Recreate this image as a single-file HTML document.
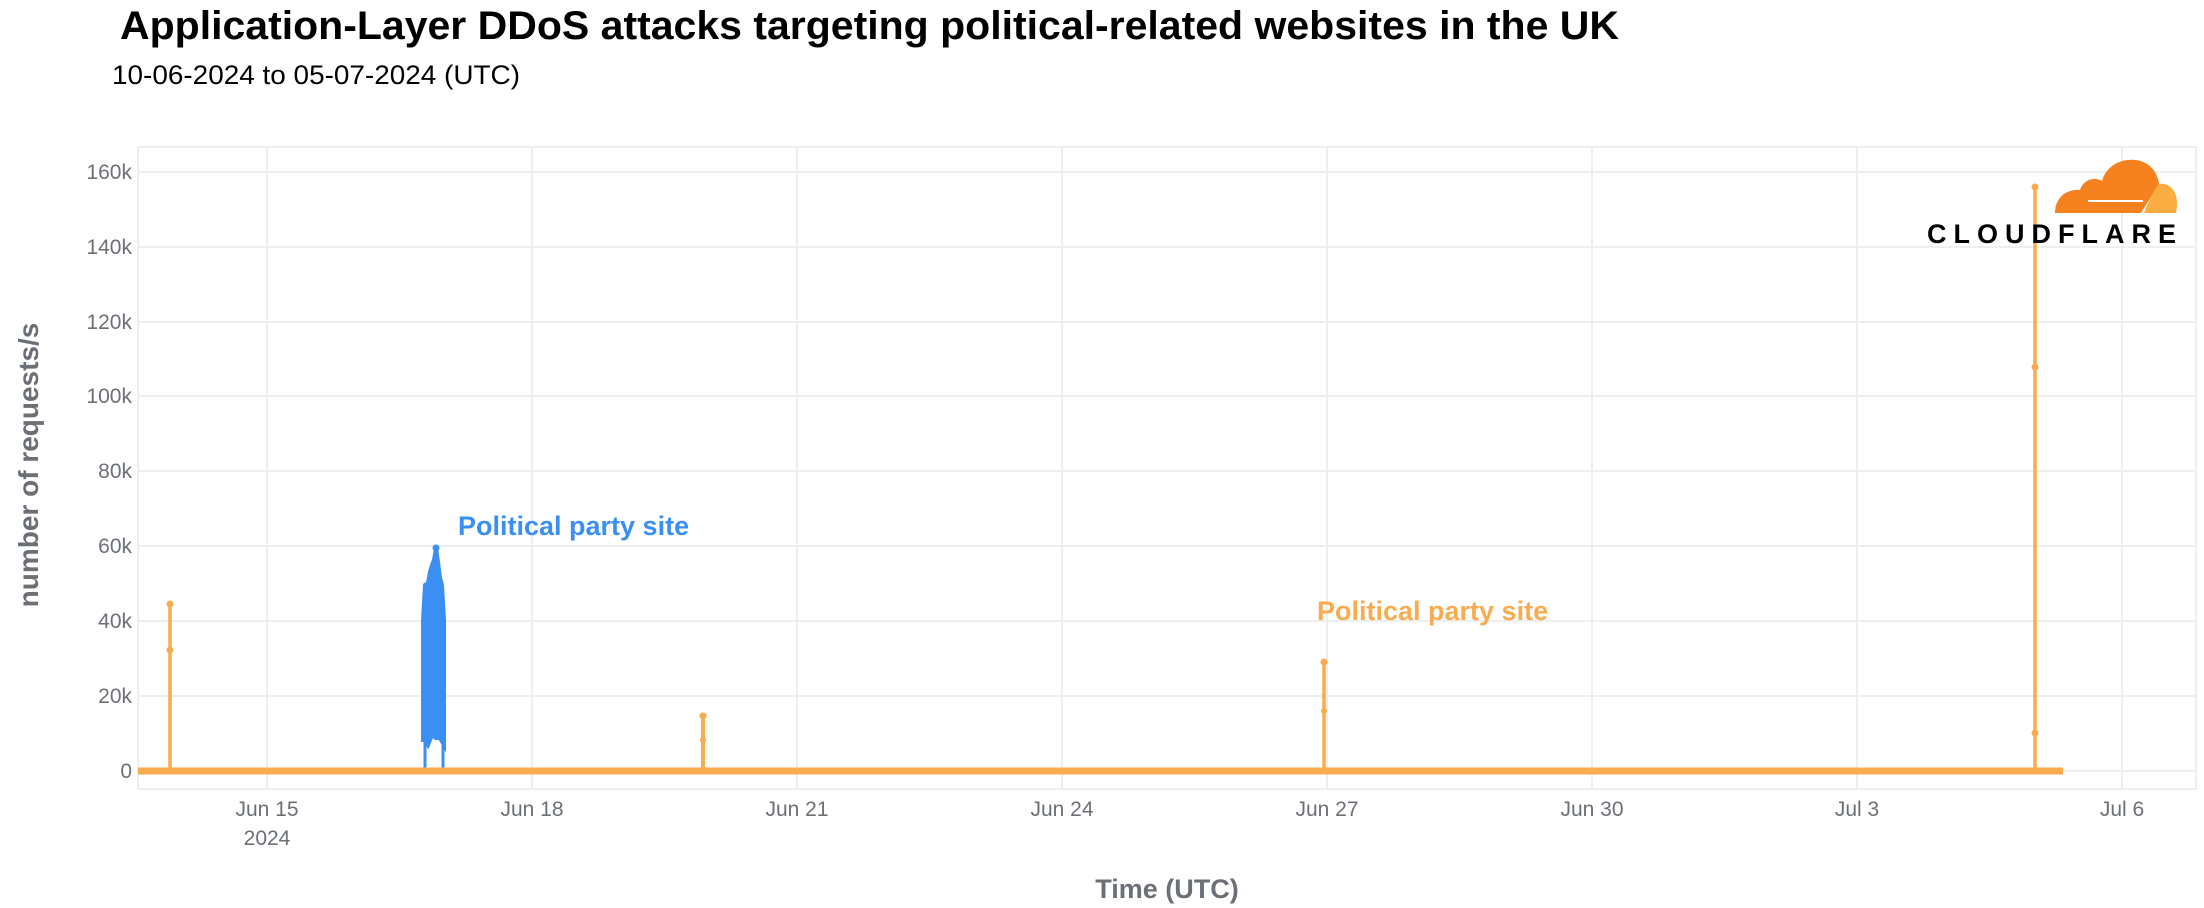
<!DOCTYPE html>
<html><head><meta charset="utf-8"><style>
html,body{margin:0;padding:0;background:#fff;width:2204px;height:908px;overflow:hidden}
svg{display:block}
text{font-family:"Liberation Sans",Arial,sans-serif}
</style></head><body>
<svg width="2204" height="908" viewBox="0 0 2204 908" xmlns="http://www.w3.org/2000/svg">
<rect width="2204" height="908" fill="#fff"/>
<text x="120" y="39" font-size="40" font-weight="bold" fill="#000" textLength="1499" lengthAdjust="spacingAndGlyphs">Application-Layer DDoS attacks targeting political-related websites in the UK</text>
<text x="112" y="84" font-size="27" fill="#000" textLength="408" lengthAdjust="spacingAndGlyphs">10-06-2024 to 05-07-2024 (UTC)</text>
<rect x="138" y="147" width="2058" height="642" fill="none" stroke="#eeeeee" stroke-width="2"/>
<g stroke="#eeeeee" stroke-width="2">
<line x1="138" x2="2196" y1="172" y2="172"/>
<line x1="138" x2="2196" y1="247" y2="247"/>
<line x1="138" x2="2196" y1="322" y2="322"/>
<line x1="138" x2="2196" y1="396" y2="396"/>
<line x1="138" x2="2196" y1="471" y2="471"/>
<line x1="138" x2="2196" y1="546" y2="546"/>
<line x1="138" x2="2196" y1="621" y2="621"/>
<line x1="138" x2="2196" y1="696" y2="696"/>
<line x1="138" x2="2196" y1="771" y2="771"/>
<line y1="147" y2="789" x1="267" x2="267"/>
<line y1="147" y2="789" x1="532" x2="532"/>
<line y1="147" y2="789" x1="797" x2="797"/>
<line y1="147" y2="789" x1="1062" x2="1062"/>
<line y1="147" y2="789" x1="1327" x2="1327"/>
<line y1="147" y2="789" x1="1592" x2="1592"/>
<line y1="147" y2="789" x1="1857" x2="1857"/>
<line y1="147" y2="789" x1="2122" x2="2122"/>
</g>
<g font-size="21" fill="#6b6f76" text-anchor="end">
<text x="132" y="179">160k</text>
<text x="132" y="254">140k</text>
<text x="132" y="329">120k</text>
<text x="132" y="403">100k</text>
<text x="132" y="478">80k</text>
<text x="132" y="553">60k</text>
<text x="132" y="628">40k</text>
<text x="132" y="703">20k</text>
<text x="132" y="778">0</text>
</g>
<g font-size="21" fill="#6b6f76" text-anchor="middle">
<text x="267" y="816">Jun 15</text>
<text x="267" y="845">2024</text>
<text x="532" y="816">Jun 18</text>
<text x="797" y="816">Jun 21</text>
<text x="1062" y="816">Jun 24</text>
<text x="1327" y="816">Jun 27</text>
<text x="1592" y="816">Jun 30</text>
<text x="1857" y="816">Jul 3</text>
<text x="2122" y="816">Jul 6</text>
</g>
<text x="1167" y="898" font-size="27" font-weight="bold" fill="#6b6f76" text-anchor="middle">Time (UTC)</text>
<text transform="translate(38,465) rotate(-90)" font-size="28" font-weight="bold" fill="#6b6f76" text-anchor="middle">number of requests/s</text>
<g fill="#3b8ff2" stroke="#3b8ff2">
<polygon points="423,740 423,620 425,585 428,583 430,572 432,565 434,560 436,548 438,562 440,578 442,585 444,620 444,745 440,738 436,738 432,735 428,745 425,740" stroke-width="4"/>
<line x1="425" y1="771" x2="425" y2="740" stroke-width="3"/>
<line x1="443" y1="771" x2="443" y2="745" stroke-width="3"/>
<circle cx="436" cy="548" r="3.5" stroke="none"/>
</g>
<g stroke="#f9ab4f" fill="#f9ab4f">
<line x1="138" y1="771" x2="2063" y2="771" stroke-width="7"/>
<polyline points="170,771 170,604 170,650 170,771" fill="none" stroke-width="3.5"/>
<circle cx="170" cy="604" r="3.5" stroke="none"/><circle cx="170" cy="650" r="3.5" stroke="none"/>
<polyline points="703,771 703,716 703,740 703,771" fill="none" stroke-width="4"/>
<circle cx="703" cy="716" r="3.5" stroke="none"/><circle cx="703" cy="740" r="3" stroke="none"/>
<polyline points="1324,771 1324,662 1324,710 1324,771" fill="none" stroke-width="3.5"/>
<circle cx="1324" cy="662" r="3.5" stroke="none"/><circle cx="1324" cy="711" r="3" stroke="none"/>
<polyline points="2035,771 2035,187 2035,367 2035,733 2035,771" fill="none" stroke-width="3.5"/>
<circle cx="2035" cy="187" r="3.5" stroke="none"/><circle cx="2035" cy="367" r="3.5" stroke="none"/><circle cx="2035" cy="733" r="3.5" stroke="none"/>
</g>
<text x="458" y="535" font-size="27" font-weight="bold" fill="#3b8ff2">Political party site</text>
<text x="1317" y="620" font-size="27" font-weight="bold" fill="#f9ab4f">Political party site</text>
<g>
<path d="M2055,213 C2055,198 2066,189 2080,190 C2083,180 2094,176 2102,181 C2106,166 2121,158 2136,160 C2151,162 2158,174 2159,184 L2141,213 Z" fill="#f6821f"/>
<path d="M2144,213 C2149,200 2153,192 2159,184 C2172,182 2180,195 2176,213 Z" fill="#fbad41"/>
<rect x="2088" y="200" width="55" height="2" fill="#fff"/>
<text x="1927" y="243" font-size="27" font-weight="900" fill="#000" textLength="249" lengthAdjust="spacing">CLOUDFLARE</text>
</g>
</svg>
</body></html>
